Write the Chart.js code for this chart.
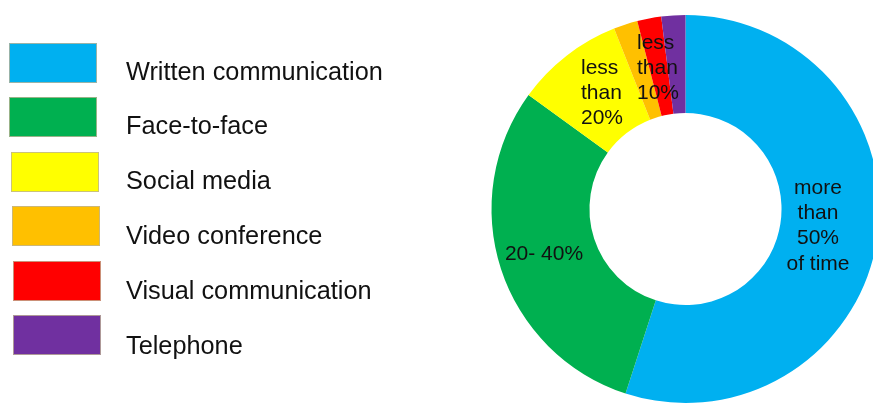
<!DOCTYPE html>
<html>
<head>
<meta charset="utf-8">
<script src="https://cdn.jsdelivr.net/npm/chart.js@4"></script>
<style>
  html, body { margin: 0; padding: 0; background: #fff; overflow: hidden; }
  #wrap { position: relative; width: 873px; height: 406px; }
  #chart { position: absolute; left: 0; top: 0; }
  #legend { position: absolute; left: 0; top: 0; width: 480px; height: 406px; }
  .box { position: absolute; width: 88px; height: 40px; box-sizing: border-box; border: 1px solid rgba(190, 180, 150, 0.8); }
  .txt { position: absolute; left: 126px; white-space: nowrap; font: 25.3px "Liberation Sans", Arial, sans-serif; color: #111; line-height: 25px; }
</style>
</head>
<body>
<div id="wrap">
  <canvas id="chart" width="873" height="406"></canvas>
  <div id="legend"></div>
</div>
<script>
const categories = [
  "Written communication",
  "Face-to-face",
  "Social media",
  "Video conference",
  "Visual communication",
  "Telephone"
];
const shares = [55, 30, 9, 2, 2, 2];
const colours = ["#00B0F0", "#00B050", "#FFFF00", "#FFC000", "#FF0000", "#7030A0"];

// text written on the ring: lines, anchor x, first line y, alignment
const ringLabels = [
  { lines: ["more", "than", "50%", "of time"], x: 818, y: 188, align: "center" },
  { lines: ["20- 40%"], x: 544, y: 254, align: "center" },
  { lines: ["less", "than", "20%"], x: 581, y: 68, align: "left" },
  { lines: ["less", "than", "10%"], x: 637, y: 43, align: "left" }
];

// legend rows (html), one per category
const legend = document.getElementById("legend");
const boxLeft = [9, 9, 11, 12, 13, 13];
categories.forEach((name, i) => {
  const top = 43 + i * 54.4;
  const box = document.createElement("div");
  box.className = "box";
  box.style.left = boxLeft[i] + "px";
  box.style.top = top + "px";
  box.style.background = colours[i];
  legend.appendChild(box);

  const txt = document.createElement("div");
  txt.className = "txt";
  txt.style.top = (top + 28 - 12.5 + i * 0.5) + "px";
  txt.textContent = name;
  legend.appendChild(txt);
});

const ringText = {
  id: "ringText",
  afterDatasetsDraw(chart) {
    const ctx = chart.ctx;
    ctx.save();
    ctx.font = '21px "Liberation Sans", Arial, sans-serif';
    ctx.fillStyle = "#111";
    ctx.textBaseline = "middle";
    ringLabels.forEach((lab) => {
      ctx.textAlign = lab.align;
      lab.lines.forEach((line, k) => {
        ctx.fillText(line, lab.x, lab.y + k * 25.3);
      });
    });
    ctx.restore();
  }
};

new Chart(document.getElementById("chart"), {
  type: "doughnut",
  data: {
    labels: categories,
    datasets: [{
      data: shares,
      backgroundColor: colours,
      borderWidth: 0
    }]
  },
  options: {
    responsive: false,
    animation: false,
    devicePixelRatio: 1,
    radius: 194,
    cutout: "49.5%",
    layout: { padding: { left: 498, top: 15, right: 0, bottom: 3 } },
    plugins: {
      legend: { display: false },
      tooltip: { enabled: false }
    }
  },
  plugins: [ringText]
});
</script>
</body>
</html>
